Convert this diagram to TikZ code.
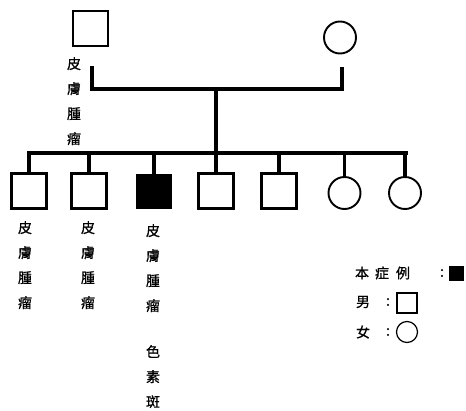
\documentclass[tikz,border=0pt]{standalone}
\usepackage{fontspec}
\newfontfamily\cjk[FakeBold=0.8,AutoFakeBold=0.8]{Noto Sans CJK TC}
\begin{document}
\begin{tikzpicture}[x=1pt,y=-1pt,
  male/.style={draw, line width=2.2pt, minimum size=35pt, inner sep=0pt},
  female/.style={draw, circle, line width=1.9pt, minimum size=32pt, inner sep=0pt},
  affected/.style={male, fill=black, minimum size=33pt},
  link/.style={line width=3.8pt, line cap=butt},
  drop/.style={line width=3.6pt},
  lbl/.style={font=\cjk\fontsize{14}{25}\selectfont, align=center, inner sep=0pt, anchor=north},
  ch/.style={font=\cjk\fontsize{14}{14}\selectfont, inner sep=0pt}]
\useasboundingbox (0,0) rectangle (466,410);
% parents
\node[male] (f) at (90.5,28.5) {};
\node[female] (m) at (340,37.5) {};
\node[lbl] (fl) at (74,57) {皮\\膚\\腫\\瘤};
% marriage line
\coordinate (mla) at (92,66);
\coordinate (mra) at (342,67);
\coordinate (mj) at (216,89);
\coordinate (sj) at (216,153);
\coordinate (sl) at (27,153);
\coordinate (sr) at (407.5,153);
\draw[link] (mla) |- (mj) -| (mra);
\draw[link] (mj) -- (sj);
\draw[link] (sl) -- (sr);
% children
\node[male] (c1) at (29,191) {};
\node[male] (c2) at (89,191) {};
\node[affected] (c3) at (154,191.5) {};
\node[male] (c4) at (216,191) {};
\node[male] (c5) at (279,191) {};
\node[female] (c6) at (344.5,193) {};
\node[female] (c7) at (405,193) {};
\foreach \c in {c1,c2,c3,c4,c5,c6,c7}
  \draw[drop] (\c.north) -- (\c.north |- sl);
% labels of children
\node[lbl] (l1) at (25,221) {皮\\膚\\腫\\瘤};
\node[lbl] (l2) at (88,221) {皮\\膚\\腫\\瘤};
\node[lbl] (l3) at (153,224) {皮\\膚\\腫\\瘤};
\node[lbl] (l3b) at (153,345) {色\\素\\斑};
% legend
\node[ch] (k1) at (362,273) {本};
\node[ch] (k2) at (382,273) {症};
\node[ch] (k3) at (403,273) {例};
\node[ch] (k4) at (442,273) {:};
\node[draw, fill=black, minimum size=14pt, inner sep=0pt] (ka) at (456,273.5) {};
\node[ch] (k5) at (363,302) {男};
\node[ch] (k6) at (388,302) {:};
\node[draw, line width=1.4pt, minimum size=20pt, inner sep=0pt] (km) at (407,303) {};
\node[ch] (k7) at (363,332) {女};
\node[ch] (k8) at (388,332) {:};
\node[draw, circle, line width=1.2pt, minimum size=21pt, inner sep=0pt] (kf) at (407,332) {};
\end{tikzpicture}
\end{document}
